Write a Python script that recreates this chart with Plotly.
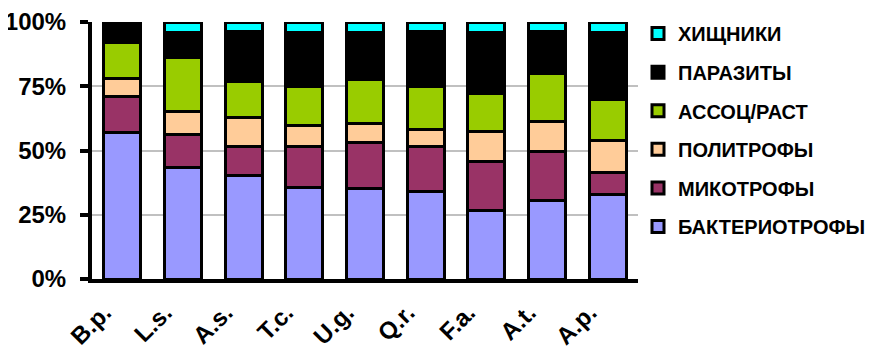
import plotly.graph_objects as go

categories = ["B.p.", "L.s.", "A.s.", "T.c.", "U.g.", "Q.r.", "F.a.", "A.t.", "A.p."]

bacteriotrophs = [57.0, 43.3, 40.4, 35.6, 35.3, 34.0, 26.5, 30.4, 32.7]
mycotrophs     = [14.0, 13.0, 11.1, 16.0, 17.9, 17.5, 19.4, 19.1, 8.6]
polytrophs     = [7.0, 9.0, 11.2, 8.2, 7.2, 6.8, 11.4, 11.7, 12.7]
assoc_plants   = [14.0, 21.0, 14.3, 15.2, 17.2, 16.7, 14.9, 18.8, 15.9]
parasites      = [8.0, 9.7, 19.4, 21.0, 18.5, 21.4, 23.8, 16.2, 26.0]
predators      = [0.0, 4.0, 3.6, 4.0, 3.9, 3.6, 4.0, 3.8, 4.1]

series_names = ["БАКТЕРИОТРОФЫ", "МИКОТРОФЫ", "ПОЛИТРОФЫ", "АССОЦ/РАСТ", "ПАРАЗИТЫ", "ХИЩНИКИ"]
series_values = [bacteriotrophs, mycotrophs, polytrophs, assoc_plants, parasites, predators]
series_colors = ["#9999FF", "#993366", "#FFCC99", "#99CC00", "#000000", "#00FFFF"]

y_tick_vals = [0, 25, 50, 75, 100]
y_tick_text = ["0%", "25%", "50%", "75%", "100%"]

FONT = "Liberation Sans, Arial, sans-serif"

fig = go.Figure()
n = len(series_names)
for i, (name, vals, col) in enumerate(zip(series_names, series_values, series_colors)):
    fig.add_trace(go.Bar(
        x=categories, y=vals, name=name, legendgroup=name,
        legendrank=1000 + (n - i),
        marker=dict(color=col, line=dict(color="#000000", width=3)),
    ))

# page body has an 8px margin, so the figure is drawn at (8, 8)
fig.update_layout(
    barmode="stack",
    bargap=0.39,
    width=868, height=341,
    margin=dict(l=84, r=238, t=14, b=70, autoexpand=False),
    paper_bgcolor="white", plot_bgcolor="white",
    font=dict(family=FONT, color="black", size=20, weight="bold"),
    legend=dict(
        traceorder="grouped",
        tracegroupgap=9.6,
        x=1.0, xanchor="left", y=1.031, yanchor="top",
        font=dict(family=FONT, size=20, color="black", weight="bold"),
        itemwidth=30,
        maxheight=330,
    ),
    showlegend=True,
)
fig.update_yaxes(
    range=[0, 100],
    tickvals=y_tick_vals, ticktext=y_tick_text,
    tickfont=dict(family=FONT, size=24, color="black", weight="bold"),
    showgrid=True, gridcolor="#C0C0C0", gridwidth=1.5,
    showline=True, linecolor="black", linewidth=4,
    ticks="outside", ticklen=8, tickwidth=4, tickcolor="black",
    ticklabelstandoff=9, ticklabeloverflow="allow",
    zeroline=False, automargin=False,
)
fig.update_xaxes(
    tickangle=-45,
    tickfont=dict(family=FONT, size=24, color="black", weight="bold"),
    showline=True, linecolor="black", linewidth=4,
    showgrid=False, ticks="",
    ticklabelstandoff=6, ticklabelshift=-18,
    ticklabeloverflow="allow",
    automargin=False,
)

fig.write_html("out.html")
